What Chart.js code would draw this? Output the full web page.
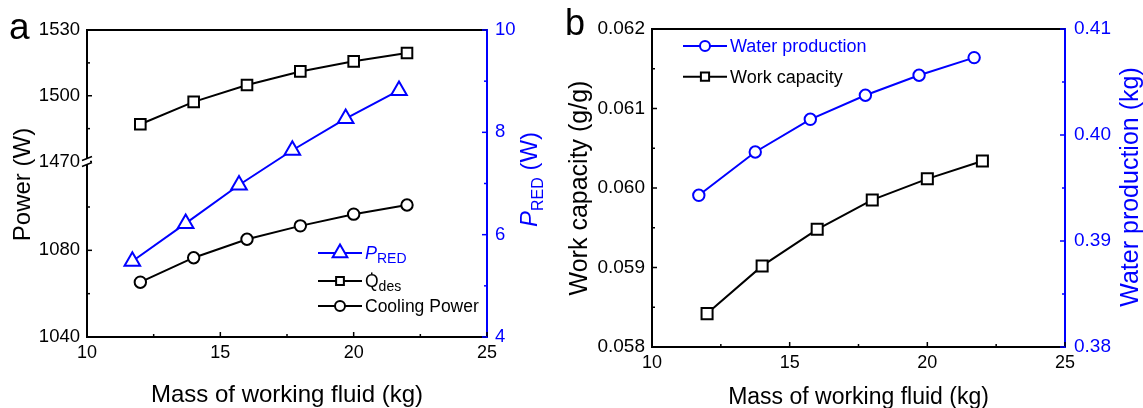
<!DOCTYPE html>
<html>
<head>
<meta charset="utf-8">
<script src="https://cdn.jsdelivr.net/npm/chart.js@4.4.1/dist/chart.umd.min.js"></script>
<style>
html,body{margin:0;padding:0;background:#fff;overflow:hidden}
#wa{position:absolute;left:0;top:0;width:560px;height:408px}
#wb{position:absolute;left:560px;top:0;width:583px;height:408px}
</style>
</head>
<body>
<div id="wa"><canvas id="ca" width="560" height="408"></canvas></div>
<div id="wb"><canvas id="cb" width="583" height="408"></canvas></div>
<script>
const FONT='"Liberation Sans", Arial, sans-serif';
const BLUE='#0000ff';

// panel a
const massA=[12,14,16,18,20,22];
const massPRED=[11.7,13.7,15.7,17.7,19.7,21.7];
const qDes=[1487,1497.2,1504.9,1511.1,1515.7,1519.5];
const coolingPower=[1065.3,1076.6,1085.1,1091.3,1096.7,1100.9];
const pRED=[5.48,6.22,6.97,7.65,8.27,8.82];
const powerLowTicks=[1040,1080];
const powerHighTicks=[1470,1500,1530];
const pREDTicks=[4,6,8,10];
const massTicks=[10,15,20,25];

// panel b
const massWork=[12,14,16,18,20,22];
const massWater=[11.7,13.75,15.75,17.75,19.7,21.7];
const workCapacity=[0.05842,0.05902,0.05948,0.05985,0.060115,0.06034];
const waterProduction=[0.39431,0.3984,0.40148,0.40375,0.40564,0.4073];
const workTicks=['0.058','0.059','0.060','0.061','0.062'];
const waterTicks=['0.38','0.39','0.40','0.41'];

const pts=(xs,ys)=>xs.map((x,i)=>({x,y:ys[i]}));
const f=(s,st)=>(st||'')+' '+s+'px '+FONT;

function axis(o,color){
  return Object.assign({type:'linear',grid:{drawOnChartArea:false,drawTicks:false},
    border:{color:color||'#000',width:2}},o);
}
function lbl(list,dec){
  return v=>{const s=dec==null?String(v):Number(v).toFixed(dec);return list.includes(dec==null?v:s)&&Math.abs(Number(s)-v)<1e-9?s:''};
}

// inward tick marks, top frame line
const frame={id:'frame',afterDraw(ch){
  const c=ch.ctx,a=ch.chartArea;
  c.save();
  c.lineWidth=2;c.strokeStyle='#000';
  c.beginPath();c.moveTo(a.left,a.top);c.lineTo(a.right,a.top);c.stroke();
  c.lineWidth=1.5;
  Object.values(ch.scales).forEach(s=>{
    c.strokeStyle=s.options.border.color;
    s.ticks.forEach(t=>{
      const len=t.label!==''?5:3;
      const p=s.getPixelForValue(t.value);
      c.beginPath();
      if(s.position==='bottom'){c.moveTo(p,a.bottom);c.lineTo(p,a.bottom-len)}
      else if(s.position==='left'){c.moveTo(a.left,p);c.lineTo(a.left+len,p)}
      else{c.moveTo(a.right,p);c.lineTo(a.right-len,p)}
      c.stroke();
    });
  });
  c.restore();
}};

function runs(c,parts,x,y,center){
  let w=0;parts.forEach(p=>{c.font=p[1];w+=c.measureText(p[0]).width});
  let cx=center?x-w/2:x;
  parts.forEach(p=>{c.font=p[1];c.fillText(p[0],cx,y+(p[2]||0));cx+=c.measureText(p[0]).width});
}
function rotated(c,parts,x,y,color){
  c.save();c.translate(x,y);c.rotate(-Math.PI/2);c.fillStyle=color;c.textBaseline='alphabetic';c.textAlign='left';
  runs(c,parts,0,0,true);c.restore();
}
function legendRow(c,x,y,color,style,r,parts){
  c.save();
  c.strokeStyle=color;c.lineWidth=2;
  c.beginPath();c.moveTo(x,y);c.lineTo(x+44,y);c.stroke();
  c.fillStyle='#fff';
  Chart.helpers.drawPoint(c,{pointStyle:style,radius:r,borderWidth:2,rotation:0},x+22,y);
  c.fillStyle=color;c.textBaseline='alphabetic';c.textAlign='left';
  runs(c,parts,x+47,y+6.3);
  c.restore();
}

const decorA={id:'decorA',afterDraw(ch){
  const c=ch.ctx,a=ch.chartArea;
  // axis break
  const yb=ch.scales.yLow.top,x=a.left;
  c.save();
  c.fillStyle='#fff';c.fillRect(x-3,yb-2.5,6,5);
  c.strokeStyle='#000';c.lineWidth=1.5;
  c.beginPath();c.moveTo(x-5,yb-1);c.lineTo(x+5,yb-5);c.moveTo(x-5,yb+5);c.lineTo(x+5,yb+1);c.stroke();
  c.fillStyle='#000';c.textBaseline='alphabetic';c.textAlign='left';
  c.font=f(37);c.fillText('a',9,39);
  c.textAlign='center';c.font=f(24);c.fillText('Mass of working fluid (kg)',(a.left+a.right)/2,402);
  c.restore();
  rotated(c,[['Power (W)',f(24)]],29.5,184.5,'#000');
  rotated(c,[['P',f(24,'italic')],['RED',f(16),6],[' (W)',f(24)]],537,179.5,BLUE);
  legendRow(c,318,253,BLUE,'triangle',8.5,[['P',f(18,'italic')],['RED',f(14),3.5]]);
  legendRow(c,318,281,'#000','rect',5.5,[['Q\u0307',f(17.5)],['des',f(14),3.5]]);
  legendRow(c,318,306,'#000','circle',5,[['Cooling Power',f(17.5)]]);
}};

const decorB={id:'decorB',afterDraw(ch){
  const c=ch.ctx,a=ch.chartArea;
  c.save();
  c.fillStyle='#000';c.textBaseline='alphabetic';c.textAlign='left';
  c.font=f(36);c.fillText('b',5,35);
  c.textAlign='center';c.font=f(23);c.fillText('Mass of working fluid (kg)',(a.left+a.right)/2,404);
  c.restore();
  rotated(c,[['Work capacity (g/g)',f(25)]],26.5,188,'#000');
  rotated(c,[['Water production (kg)',f(25)]],578,187,BLUE);
  legendRow(c,123,46,BLUE,'circle',5,[['Water production',f(18)]]);
  legendRow(c,123,76.7,'#000','rect',5.8,[['Work capacity',f(18)]]);
}};

const base={responsive:false,animation:false,devicePixelRatio:1,
  plugins:{legend:{display:false},tooltip:{enabled:false}},
  elements:{line:{borderWidth:2,tension:0},point:{borderWidth:2,backgroundColor:'#fff',hoverRadius:0}}};

new Chart(document.getElementById('ca'),{type:'line',
  data:{datasets:[
    {data:pts(massPRED,pRED),yAxisID:'yR',borderColor:BLUE,pointBorderColor:BLUE,pointBackgroundColor:'#fff',pointStyle:'triangle',pointRadius:9},
    {data:pts(massA,qDes),yAxisID:'yHigh',borderColor:'#000',pointBorderColor:'#000',pointBackgroundColor:'#fff',pointStyle:'rect',pointRadius:7.5},
    {data:pts(massA,coolingPower),yAxisID:'yLow',borderColor:'#000',pointBorderColor:'#000',pointBackgroundColor:'#fff',pointStyle:'circle',pointRadius:5.7}
  ]},
  options:Object.assign({},base,{
    layout:{padding:{top:30,left:0,right:0,bottom:0}},
    scales:{
      x:axis({position:'bottom',min:10,max:25,afterFit:s=>{s.height=71},
        ticks:{stepSize:2.5,padding:4.8,color:'#000',font:{family:FONT,size:18},maxRotation:0,autoSkip:false,callback:lbl(massTicks)}}),
      yLow:axis({position:'left',stack:'left',stackWeight:175.5,min:1040,max:1121,offset:false,afterFit:s=>{s.width=87},
        afterBuildTicks:s=>{s.ticks=s.ticks.filter(t=>t.value<=1100)},
        ticks:{stepSize:20,padding:7,color:'#000',font:{family:FONT,size:18.5},autoSkip:false,callback:lbl(powerLowTicks)}}),
      yHigh:axis({position:'left',stack:'left',stackWeight:131.5,min:1470,max:1530,offset:false,afterFit:s=>{s.width=87},
        ticks:{stepSize:15,padding:7,color:'#000',font:{family:FONT,size:18.5},autoSkip:false,callback:lbl(powerHighTicks)}}),
      yR:axis({position:'right',min:4,max:10,afterFit:s=>{s.width=73},
        ticks:{stepSize:1,padding:8,color:BLUE,font:{family:FONT,size:18.5},autoSkip:false,callback:lbl(pREDTicks)}},BLUE)
    }
  }),
  plugins:[frame,decorA]
});

new Chart(document.getElementById('cb'),{type:'line',
  data:{datasets:[
    {data:pts(massWater,waterProduction),yAxisID:'yR',borderColor:BLUE,pointBorderColor:BLUE,pointBackgroundColor:'#fff',pointStyle:'circle',pointRadius:5.7},
    {data:pts(massWork,workCapacity),yAxisID:'y',borderColor:'#000',pointBorderColor:'#000',pointBackgroundColor:'#fff',pointStyle:'rect',pointRadius:7.8}
  ]},
  options:Object.assign({},base,{
    layout:{padding:{top:29,left:0,right:0,bottom:0}},
    scales:{
      x:axis({position:'bottom',min:10,max:25,afterFit:s=>{s.height=61},
        ticks:{stepSize:2.5,padding:4.8,color:'#000',font:{family:FONT,size:18},maxRotation:0,autoSkip:false,callback:lbl(massTicks)}}),
      y:axis({position:'left',min:0.058,max:0.062,afterFit:s=>{s.width=92},
        ticks:{stepSize:0.0005,padding:7,color:'#000',font:{family:FONT,size:19},autoSkip:false,callback:lbl(workTicks,3)}}),
      yR:axis({position:'right',min:0.38,max:0.41,afterFit:s=>{s.width=78},
        ticks:{stepSize:0.005,padding:9,color:BLUE,font:{family:FONT,size:19},autoSkip:false,callback:lbl(waterTicks,2)}},BLUE)
    }
  }),
  plugins:[frame,decorB]
});
</script>
</body>
</html>
